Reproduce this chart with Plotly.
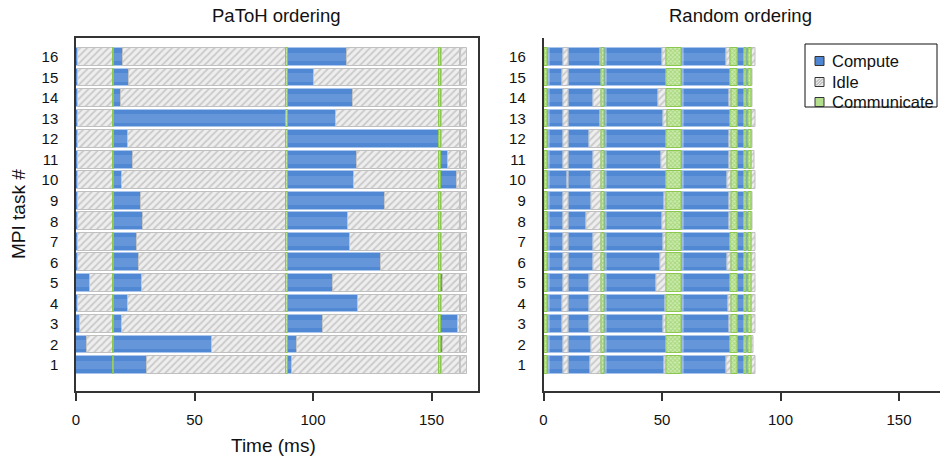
import plotly.graph_objects as go

W, H = 940, 458

TASKS = list(range(1, 17))
TICK_VALS = [0, 50, 100, 150]
TITLES = ["PaToH ordering", "Random ordering"]
KIND_NAMES = {"C": "Compute", "I": "Idle", "M": "Communicate"}
LEGEND_ORDER = ["C", "I", "M"]

# ---------------- PaToH ordering (task 1 .. 16), times in ms ----------------
PATOH_C0_END = [15.7, 4.5, 1.5, 0.8, 5.9, 0.8, 0.8, 0.8, 0.8, 0.8, 0.8, 0.8, 0.8, 0.8, 0.8, 0.8]
PATOH_C1_END = [29.8, 57.3, 19.5, 22.1, 27.7, 26.6, 25.6, 28.4, 27.4, 19.3, 24.2, 21.8, 88.7, 19.0, 22.5, 19.9]
PATOH_C2_END = [91.0, 93.1, 104.4, 119.1, 108.3, 128.6, 115.6, 114.6, 130.4, 117.3, 118.7, 153.2, 109.6, 117.0, 100.5, 114.5]
PATOH_C3_END = [154.5, 154.7, 161.3, 154.3, 155.0, 154.3, 154.2, 154.3, 154.3, 160.6, 157.1, 154.3, 154.3, 154.3, 154.3, 154.3]
PATOH_MARKS = [0.2, 15.7, 16.2, 88.8, 89.6, 153.3, 153.8, 162.1, 162.6, 165.0]

# ---------------- Random ordering (task 1 .. 16), times in ms ----------------
RANDOM_C1_END = [8.56, 8.56, 7.86, 7.86, 8.56, 8.56, 8.56, 8.56, 8.56, 10.0, 8.3, 8.56, 8.3, 8.3, 7.9, 8.5]
RANDOM_C2_END = [19.8, 20.2, 19.5, 19.5, 19.5, 21.2, 21.2, 18.25, 20.2, 20.2, 20.9, 19.5, 24.0, 20.9, 24.3, 24.0]
RANDOM_C3_END = [50.95, 52.07, 50.7, 51.4, 47.6, 49.3, 50.7, 50.4, 50.95, 52.07, 49.96, 51.8, 50.7, 48.6, 51.8, 50.4]
RANDOM_M3_START = [52.07, 52.07, 52.07, 52.07, 52.07, 52.07, 52.07, 52.07, 52.07, 52.07, 52.35, 51.8, 52.35, 52.07, 51.8, 52.07]
RANDOM_C4_END = [77.3, 79.0, 78.4, 78.03, 78.7, 77.6, 78.7, 78.4, 78.4, 77.6, 78.4, 78.4, 78.7, 78.4, 78.7, 77.3]
RANDOM_M4_START = [79.4, 79.0, 79.4, 79.4, 78.7, 79.4, 78.7, 79.4, 79.4, 79.4, 79.4, 79.4, 78.7, 79.4, 78.7, 79.0]
RANDOM_END = [89.4, 88.5, 89.4, 89.4, 89.4, 89.4, 89.4, 88.3, 88.3, 89.4, 89.0, 88.3, 89.4, 88.3, 88.3, 89.4]
RANDOM_MARKS = [0.6, 1.6, 2.4, 10.6, 24.3, 25.6, 26.4, 58.4, 59.2, 81.9, 84.6, 85.5, 86.3, 87.6]


def patoh_row(i):
    m = PATOH_MARKS
    segs = [
        ("C", m[0], PATOH_C0_END[i]), ("I", PATOH_C0_END[i], m[1]), ("M", m[1], m[2]),
        ("C", m[2], PATOH_C1_END[i]), ("I", PATOH_C1_END[i], m[3]), ("M", m[3], m[4]),
        ("C", m[4], PATOH_C2_END[i]), ("I", PATOH_C2_END[i], m[5]), ("M", m[5], m[6]),
        ("C", m[6], PATOH_C3_END[i]), ("I", PATOH_C3_END[i], m[7]), ("C", m[7], m[8]),
        ("I", m[8], m[9]),
    ]
    return [s for s in segs if s[2] - s[1] > 0.05]


def random_row(i):
    m = RANDOM_MARKS
    segs = [
        ("I", 0.0, m[0]), ("M", m[0], m[1]), ("C", m[1], m[2]), ("C", m[2], RANDOM_C1_END[i]),
        ("I", RANDOM_C1_END[i], m[3]), ("C", m[3], RANDOM_C2_END[i]), ("I", RANDOM_C2_END[i], m[4]),
        ("M", m[4], m[5]), ("C", m[5], m[6]), ("C", m[6], RANDOM_C3_END[i]),
        ("I", RANDOM_C3_END[i], RANDOM_M3_START[i]), ("M", RANDOM_M3_START[i], m[7]),
        ("C", m[7], m[8]), ("C", m[8], RANDOM_C4_END[i]), ("I", RANDOM_C4_END[i], RANDOM_M4_START[i]),
        ("M", RANDOM_M4_START[i], m[9]), ("C", m[9], m[10]), ("M", m[10], m[11]),
        ("C", m[11], m[12]), ("M", m[12], m[13]), ("I", m[13], RANDOM_END[i]),
    ]
    return [s for s in segs if s[2] - s[1] > 0.05]


STYLE = {
    "C": dict(color="#5088d4", line=dict(color="#a9c5ec", width=1)),
    "I": dict(color="#eeeeee", line=dict(color="#c0c0c0", width=1),
              pattern=dict(shape="/", fgcolor="#a6a6a6", bgcolor="#eeeeee", size=5, solidity=0.35)),
    "M": dict(color="#c6e8a6", line=dict(color="#8cc850", width=1),
              pattern=dict(shape="x", fgcolor="#7fc244", bgcolor="#cdebb0", size=3, solidity=0.5)),
}

fig = go.Figure()
BAR_W = 0.86
for panel, (row_fn, xa, ya) in enumerate([(patoh_row, "x", "y"), (random_row, "x2", "y2")]):
    data = {"C": ([], [], []), "I": ([], [], []), "M": ([], [], [])}
    for i, task in enumerate(TASKS):
        for kind, s, e in row_fn(i):
            ys, bs, ws = data[kind]
            ys.append(task)
            bs.append(s)
            ws.append(e - s)
    for kind in ["C", "I", "M"]:
        ys, bs, ws = data[kind]
        fig.add_trace(go.Bar(
            orientation="h", y=ys, x=ws, base=bs, width=BAR_W,
            marker=STYLE[kind], name=KIND_NAMES[kind], legendgroup=kind,
            showlegend=False, xaxis=xa, yaxis=ya, hoverinfo="skip",
        ))
    # soft highlight band through the middle of compute bars (glossy look)
    ys, bs, ws = data["C"]
    fig.add_trace(go.Bar(
        orientation="h", y=ys, x=ws, base=bs, width=0.42,
        marker=dict(color="rgba(255,255,255,0.12)", line=dict(width=0)),
        showlegend=False, xaxis=xa, yaxis=ya, hoverinfo="skip",
    ))

# pixel geometry
L_X0, L_X1 = 76, 478
R_X0, R_X1 = 543.5, 940
Y_TOP, Y_BOT = 38, 391
PX_PER_MS = (L_X1 - L_X0) / 169.6
YR = [-0.27, 16.93]


def px(x):
    return x / W


def py(y):
    return 1 - y / H


font_fam = "Liberation Sans, Arial, Helvetica, sans-serif"
axis_common = dict(showgrid=False, zeroline=False, showline=True, linecolor="#333", linewidth=1.5,
                   tickfont=dict(size=15, color="#111", family=font_fam))

# manual legend (box, swatches, labels)
shapes = [dict(type="rect", xref="paper", yref="paper", x0=px(805), x1=px(937), y0=py(107), y1=py(44),
               line=dict(color="#111", width=1), fillcolor="white", layer="above")]
LEG_Y = [61, 82, 102]
SW_FILL = {"C": "#4f86d3", "I": "#ececec", "M": "#b3de8c"}
annotations = []
for k, yy in zip(LEGEND_ORDER, LEG_Y):
    shapes.append(dict(type="rect", xref="paper", yref="paper", x0=px(815), x1=px(824),
                       y0=py(yy + 4.5), y1=py(yy - 4.5), fillcolor=SW_FILL[k],
                       line=dict(color="#333", width=1), layer="above"))
    if k == "I":
        for off in [0, 3, -3]:
            shapes.append(dict(type="line", xref="paper", yref="paper",
                               x0=px(816 + max(off, 0)), y0=py(yy + 3.5 - max(-off, 0)),
                               x1=px(823 - max(-off, 0)), y1=py(yy - 3.5 + max(off, 0)),
                               line=dict(color="#9a9a9a", width=1), layer="above"))
    annotations.append(dict(text=KIND_NAMES[k], x=px(829.5), y=py(yy), xref="paper", yref="paper",
                            showarrow=False, font=dict(size=16.5, color="#111"),
                            xanchor="left", yanchor="middle"))

annotations += [
    dict(text=TITLES[0], x=px(276), y=py(15), xref="paper", yref="paper",
         showarrow=False, font=dict(size=18.5), xanchor="center", yanchor="middle"),
    dict(text=TITLES[1], x=px(740), y=py(15), xref="paper", yref="paper",
         showarrow=False, font=dict(size=18.5), xanchor="center", yanchor="middle"),
    dict(text="Time (ms)", x=px(273), y=py(445), xref="paper", yref="paper",
         showarrow=False, font=dict(size=19), xanchor="center", yanchor="middle"),
    dict(text="MPI task #", x=px(18), y=py(214), xref="paper", yref="paper",
         showarrow=False, font=dict(size=19), textangle=-90, xanchor="center", yanchor="middle"),
]

fig.update_layout(
    width=W, height=H, autosize=False, margin=dict(l=0, r=0, t=0, b=0, pad=0),
    paper_bgcolor="white", plot_bgcolor="white", barmode="overlay", bargap=0,
    font=dict(family=font_fam, color="#111"), showlegend=False,
    xaxis=dict(domain=[px(L_X0), px(L_X1)], range=[0, 169.6], anchor="y", mirror=True,
               ticks="outside", ticklen=8, tickwidth=1.5, tickcolor="#333", tickvals=TICK_VALS,
               ticklabelstandoff=6, automargin=False, **axis_common),
    yaxis=dict(domain=[py(Y_BOT), py(Y_TOP)], range=YR, anchor="x", mirror=True,
               tickvals=TASKS, ticks="", ticklabelstandoff=13, automargin=False, **axis_common),
    xaxis2=dict(domain=[px(R_X0), 1.0], range=[0, (R_X1 - R_X0) / PX_PER_MS], anchor="y2",
                ticks="outside", ticklen=8, tickwidth=1.5, tickcolor="#333", tickvals=TICK_VALS,
                ticklabelstandoff=6, automargin=False, **axis_common),
    yaxis2=dict(domain=[py(Y_BOT), py(Y_TOP)], range=YR, anchor="x2",
                tickvals=TASKS, ticks="", ticklabelstandoff=13, automargin=False, **axis_common),
    shapes=shapes,
    annotations=annotations,
)

fig.write_html("out.html", config={"responsive": False})
